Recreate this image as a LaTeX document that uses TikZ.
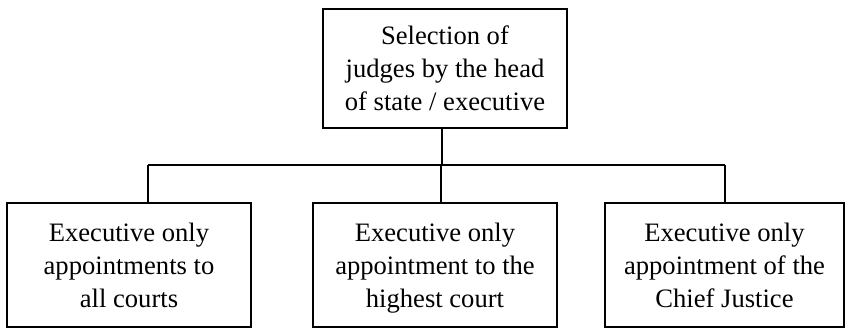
\documentclass[tikz,border=0pt]{standalone}
\usepackage{fontspec}
\setmainfont{Liberation Serif}
% struts that fix the height of the first and the depth of the last line
\newcommand{\hstrut}{\rule{0pt}{12pt}}
\newcommand{\dstrut}{\rule[-3pt]{0pt}{0pt}}
\begin{document}
\begin{tikzpicture}[x=0.5pt, y=-0.5pt, align=center,
    box/.style={draw, line width=1pt, inner sep=0pt, minimum width=122pt, minimum height=62pt,
      font=\fontsize{13.3}{16.5}\selectfont},
    link/.style={line width=1pt}]
    \useasboundingbox (0,0) rectangle (846,329);

    % Draw the top box
    \node[box, minimum height=59.5pt] (head) at (445,68.5) {\hstrut Selection of\\judges by the head\\of state / executive\dstrut};

    % Draw the three lower boxes
    \node[box] (allcourts) at (129,265) {\hstrut Executive only\\appointments to\\all courts\dstrut};
    \node[box] (highest) at (435,265) {\hstrut Executive only\\appointment to the\\highest court\dstrut};
    \node[box, minimum width=119.5pt] (chief) at (724.5,265) {\hstrut Executive only\\appointment of the\\Chief Justice\dstrut};

    % Joints on the horizontal bar
    \coordinate (jtop) at (442,165);
    \coordinate (jleft) at (148,165);
    \coordinate (jmid) at (441,165);
    \coordinate (jright) at (725,165);

    % Connectors
    \draw[link] (jtop |- head.south) -- (jtop);
    \draw[link] (jleft) -- (jright);
    \draw[link] (jleft) -- (jleft |- allcourts.north);
    \draw[link] (jmid) -- (jmid |- highest.north);
    \draw[link] (jright) -- (jright |- chief.north);
\end{tikzpicture}
\end{document}
